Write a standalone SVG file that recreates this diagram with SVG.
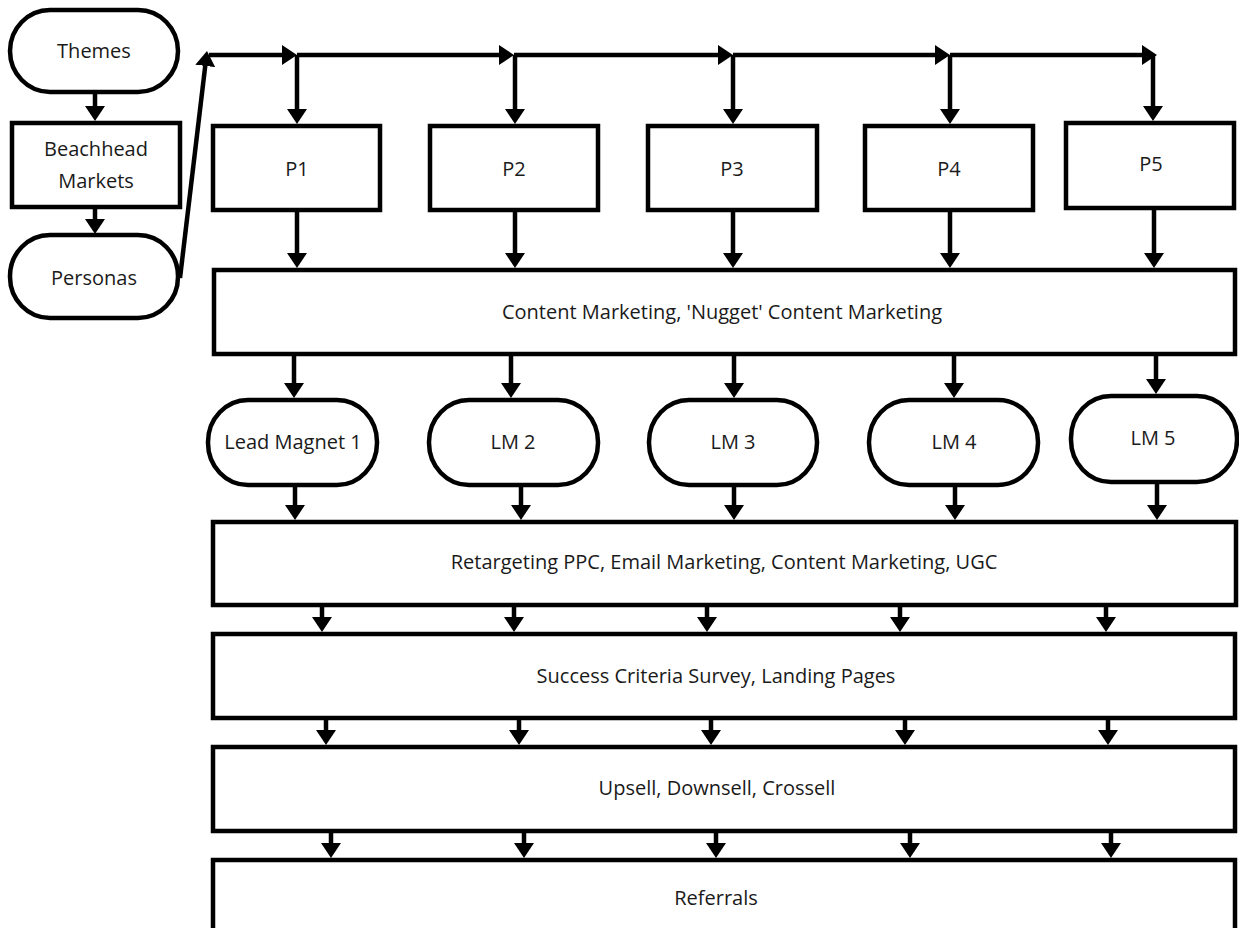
<svg xmlns="http://www.w3.org/2000/svg" width="1239" height="928" viewBox="0 0 1239 928">
<style>
.box{fill:#fff;stroke:#000;stroke-width:4.5}
.t{font-family:"Open Sans","Liberation Sans",sans-serif;font-size:20px;fill:#1a1a1a;text-anchor:middle;dominant-baseline:central}
.c line{stroke:#000;stroke-width:4.5;fill:none;marker-end:url(#ah)}
</style>
<defs>
<marker id="ah" viewBox="0 0 15 20" refX="9" refY="10" markerWidth="15" markerHeight="20" orient="auto" markerUnits="userSpaceOnUse">
<path d="M0,0 L15,10 L0,20 Z" fill="#000"/>
</marker>
</defs>
<rect width="1239" height="928" fill="#fff"/>
<g id="themes"><rect class="box" x="10" y="10" width="168" height="82" rx="40" ry="41"/><text class="t" x="94" y="50">Themes</text></g>
<g id="beachhead"><rect class="box" x="12" y="123" width="168" height="84"/><text class="t" x="96" y="148">Beachhead</text><text class="t" x="96" y="180">Markets</text></g>
<g id="personas"><rect class="box" x="10" y="235" width="168" height="83" rx="40" ry="41"/><text class="t" x="94" y="277">Personas</text></g>
<g id="p1"><rect class="box" x="213" y="126" width="167" height="84"/><text class="t" x="297" y="168">P1</text></g>
<g id="p2"><rect class="box" x="430" y="126" width="168" height="84"/><text class="t" x="514" y="168">P2</text></g>
<g id="p3"><rect class="box" x="648" y="126" width="169" height="84"/><text class="t" x="732" y="168">P3</text></g>
<g id="p4"><rect class="box" x="865" y="126" width="168" height="84"/><text class="t" x="949" y="168">P4</text></g>
<g id="p5"><rect class="box" x="1066" y="123" width="168" height="85"/><text class="t" x="1151" y="163">P5</text></g>
<g id="content"><rect class="box" x="214" y="270" width="1021" height="84"/><text class="t" x="722" y="311">Content Marketing, 'Nugget' Content Marketing</text></g>
<g id="lm1"><rect class="box" x="208" y="400" width="169" height="85" rx="40" ry="42"/><text class="t" x="293" y="441">Lead Magnet 1</text></g>
<g id="lm2"><rect class="box" x="429" y="400" width="169" height="85" rx="40" ry="42"/><text class="t" x="513" y="441">LM 2</text></g>
<g id="lm3"><rect class="box" x="649" y="400" width="168" height="85" rx="40" ry="42"/><text class="t" x="733" y="441">LM 3</text></g>
<g id="lm4"><rect class="box" x="869" y="400" width="169" height="85" rx="40" ry="42"/><text class="t" x="954" y="441">LM 4</text></g>
<g id="lm5"><rect class="box" x="1071" y="396" width="166" height="86" rx="40" ry="42"/><text class="t" x="1153" y="437">LM 5</text></g>
<g id="retargeting"><rect class="box" x="213" y="522" width="1023" height="83"/><text class="t" x="724" y="561">Retargeting PPC, Email Marketing, Content Marketing, UGC</text></g>
<g id="success"><rect class="box" x="213" y="634" width="1022" height="84"/><text class="t" x="716" y="675">Success Criteria Survey, Landing Pages</text></g>
<g id="upsell"><rect class="box" x="213" y="747" width="1022" height="84"/><text class="t" x="717" y="787">Upsell, Downsell, Crossell</text></g>
<g id="referrals"><rect class="box" x="213" y="860" width="1022" height="90"/><text class="t" x="716" y="897">Referrals</text></g>
<g id="connectors" class="c">
<line x1="95" y1="92" x2="95" y2="115"/>
<line x1="95" y1="207" x2="95" y2="228"/>
<line x1="180" y1="278" x2="206.3" y2="57"/>
<line x1="209" y1="55" x2="291" y2="55"/>
<line x1="297" y1="55" x2="508" y2="55"/>
<line x1="514" y1="55" x2="727" y2="55"/>
<line x1="733" y1="55" x2="944" y2="55"/>
<line x1="950" y1="55" x2="1151" y2="55"/>
<line x1="297" y1="55" x2="297" y2="118"/>
<line x1="515" y1="55" x2="515" y2="118"/>
<line x1="733" y1="55" x2="733" y2="118"/>
<line x1="950" y1="55" x2="950" y2="118"/>
<line x1="1153" y1="55" x2="1153" y2="115"/>
<line x1="297" y1="210" x2="297" y2="262"/>
<line x1="515" y1="210" x2="515" y2="262"/>
<line x1="733" y1="210" x2="733" y2="262"/>
<line x1="950" y1="210" x2="950" y2="262"/>
<line x1="1154" y1="208" x2="1154" y2="262"/>
<line x1="294" y1="354" x2="294" y2="392"/>
<line x1="511" y1="354" x2="511" y2="392"/>
<line x1="734" y1="354" x2="734" y2="392"/>
<line x1="954" y1="354" x2="954" y2="392"/>
<line x1="1156" y1="354" x2="1156" y2="388"/>
<line x1="295" y1="485" x2="295" y2="514"/>
<line x1="521" y1="485" x2="521" y2="514"/>
<line x1="734" y1="485" x2="734" y2="514"/>
<line x1="955" y1="485" x2="955" y2="514"/>
<line x1="1157" y1="482" x2="1157" y2="514"/>
<line x1="322" y1="605" x2="322" y2="626"/>
<line x1="514" y1="605" x2="514" y2="626"/>
<line x1="707" y1="605" x2="707" y2="626"/>
<line x1="900" y1="605" x2="900" y2="626"/>
<line x1="1106" y1="605" x2="1106" y2="626"/>
<line x1="326" y1="718" x2="326" y2="739"/>
<line x1="519" y1="718" x2="519" y2="739"/>
<line x1="711" y1="718" x2="711" y2="739"/>
<line x1="905" y1="718" x2="905" y2="739"/>
<line x1="1108" y1="718" x2="1108" y2="739"/>
<line x1="331" y1="831" x2="331" y2="852"/>
<line x1="524" y1="831" x2="524" y2="852"/>
<line x1="716" y1="831" x2="716" y2="852"/>
<line x1="910" y1="831" x2="910" y2="852"/>
<line x1="1111" y1="831" x2="1111" y2="852"/>
</g>
</svg>
